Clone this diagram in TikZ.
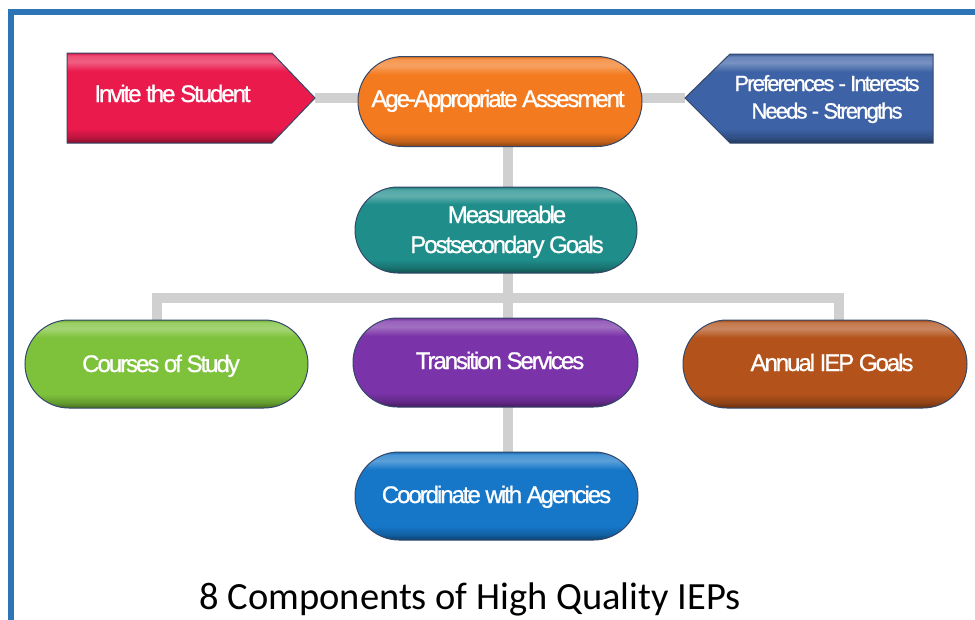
\documentclass[tikz,border=0pt]{standalone}
\usepackage{fontspec}
\setmainfont{Liberation Sans}
\newfontfamily\boxfont[LetterSpace=-8.5, FakeBold=0.9]{Liberation Sans}
\newfontfamily\titlefont{Carlito}
\usetikzlibrary{shapes.misc,backgrounds,calc}

\definecolor{cRed}{HTML}{EA1A4D}
\definecolor{cOrange}{HTML}{F47A1F}
\definecolor{cNavy}{HTML}{3D62A6}
\definecolor{cTeal}{HTML}{1F8E8B}
\definecolor{cGreen}{HTML}{7DC23A}
\definecolor{cPurple}{HTML}{7A33A8}
\definecolor{cBrown}{HTML}{B3531B}
\definecolor{cBlue}{HTML}{1677C9}
\definecolor{cEdge}{HTML}{34486A}
\definecolor{cLink}{HTML}{D0D0D0}
\definecolor{cFrame}{HTML}{2E75B6}

\newcommand\mkbevel[2]{%
  \pgfdeclareverticalshading{bev#1}{100bp}{%
    color(0bp)=(#2!55!black); color(25bp)=(#2!55!black);
    color(28bp)=(#2!80!black); color(33bp)=(#2);
    color(65bp)=(#2); color(70bp)=(#2!70!white);
    color(73.5bp)=(#2!78!white); color(75bp)=(#2!90!black);
    color(100bp)=(#2!90!black)}}
\mkbevel{Red}{cRed}
\mkbevel{Orange}{cOrange}
\mkbevel{Navy}{cNavy}
\mkbevel{Teal}{cTeal}
\mkbevel{Green}{cGreen}
\mkbevel{Purple}{cPurple}
\mkbevel{Brown}{cBrown}
\mkbevel{Blue}{cBlue}

\tikzset{
  pill/.style={rounded rectangle, draw=cEdge, line width=1pt, shade,
    minimum width=284pt, minimum height=89pt, inner sep=0pt},
  tagshape/.style={draw=cEdge, line width=1pt, shade, line join=miter},
  link/.style={draw=cLink, line width=10.5pt, line join=miter},
  txt/.style={text=white, font=\boxfont\fontsize{24}{28}\selectfont,
    align=center, inner sep=0pt, anchor=base},
  smalltxt/.style={txt, font=\boxfont\fontsize{22}{26}\selectfont},
}

\begin{document}
\begin{tikzpicture}[x=1pt,y=-1pt]
\useasboundingbox (0,0) rectangle (975,619);
\begin{scope}
  \clip (0,0) rectangle (975,619);
  \draw[cFrame, line width=6pt] (11,660) -- (11,12.3) -- (1000,12.3);
\end{scope}

% tag shapes
\path[tagshape, shading=bevRed] (67,53) -- (272,53) -- (315,98) -- (272,143) -- (67,143) -- cycle;
\coordinate (invtip) at (315,98);
\path[tagshape, shading=bevNavy] (933,54) -- (730,54) -- (685,98) -- (730,143) -- (933,143) -- cycle;
\coordinate (preftip) at (685,98);

% pills
\node[pill, shading=bevOrange, minimum width=284pt, minimum height=90pt] (age) at (500,101.5) {};
\node[pill, shading=bevTeal, minimum width=282pt, minimum height=86pt] (meas) at (496,230) {};
\node[pill, shading=bevGreen, minimum width=283pt, minimum height=88pt] (courses) at (166.5,364) {};
\node[pill, shading=bevPurple, minimum width=285pt, minimum height=89pt] (trans) at (495.5,362.5) {};
\node[pill, shading=bevBrown, minimum width=284pt, minimum height=88pt] (annual) at (825,364) {};
\node[pill, shading=bevBlue, minimum width=283pt, minimum height=88pt] (coord) at (496.5,496) {};

% texts
\node[txt] (invT) at (172.5,102) {Invite the Student};
\node[smalltxt] (prefT1) at (827,91) {Preferences - Interests};
\node[smalltxt] (prefT2) at (827,118.5) {Needs - Strengths};
\node[txt] (ageT) at (498,107) {Age-Appropriate Assesment};
\node[txt] (measT1) at (507,223) {Measureable};
\node[txt] (measT2) at (507,253) {Postsecondary Goals};
\node[txt] (coursesT) at (161,372) {Courses of Study};
\node[txt] (transT) at (500,369) {Transition Services};
\node[txt] (annualT) at (832,371) {Annual IEP Goals};
\node[txt] (coordT) at (496.5,503) {Coordinate with Agencies};

\node[anchor=base, inner sep=0pt, font=\titlefont\fontsize{38.5}{40}\selectfont] (title) at (470,609) {8 Components of High Quality IEPs};

% connectors
\coordinate (ax) at (508,0);
\coordinate (barL) at (157,298);
\coordinate (barR) at (839,298);
\begin{scope}[on background layer]
  \draw[link] (invtip) -- (invtip -| age.center);
  \draw[link] (preftip) -- (preftip -| age.center);
  \draw[link] (ax |- age.center) -- (ax |- coord.center);
  \draw[link] (barL |- courses.center) -- (barL) -- (barR) -- (barR |- annual.center);
\end{scope}
\end{tikzpicture}
\end{document}
